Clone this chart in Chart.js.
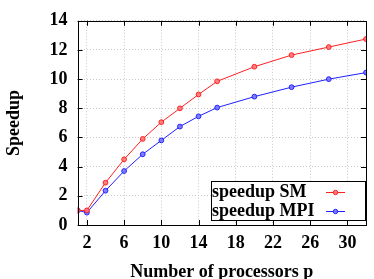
<!DOCTYPE html>
<html>
<head>
<meta charset="utf-8">
<script src="https://cdn.jsdelivr.net/npm/chart.js@4"></script>
<style>
  html, body { margin: 0; padding: 0; background: #fff; }
  #wrap { width: 374px; height: 279px; }
</style>
</head>
<body>
<div id="wrap"><canvas id="chart" width="374" height="279"></canvas></div>
<script>
const processors = [1, 2, 4, 6, 8, 10, 12, 14, 16, 20, 24, 28, 32];
const speedupSM = [1.0, 1.0, 2.9, 4.5, 5.9, 7.05, 8.0, 8.95, 9.85, 10.85, 11.65, 12.2, 12.75];
const speedupMPI = [1.0, 0.85, 2.35, 3.7, 4.85, 5.8, 6.75, 7.45, 8.05, 8.8, 9.45, 10.0, 10.45];
const xTicks = [2, 6, 10, 14, 18, 22, 26, 30];
const seriesNames = ['speedup SM', 'speedup MPI'];

const FONT = 'Liberation Serif';
const toPoints = (ys) => processors.map((x, i) => ({ x, y: ys[i] }));

// frame, inward tick marks and the boxed legend in the lower right
const frame = {
  id: 'frame',
  afterDraw(chart) {
    const { ctx, chartArea: a, scales } = chart;
    ctx.save();
    ctx.strokeStyle = '#000';
    ctx.lineWidth = 1;
    ctx.beginPath();
    for (const t of xTicks) {
      const px = Math.round(scales.x.getPixelForValue(t)) + 0.5;
      ctx.moveTo(px, a.bottom); ctx.lineTo(px, a.bottom - 5);
      ctx.moveTo(px, a.top); ctx.lineTo(px, a.top + 5);
    }
    for (let v = 0; v <= 14; v += 2) {
      const py = Math.round(scales.y.getPixelForValue(v)) + 0.5;
      ctx.moveTo(a.left, py); ctx.lineTo(a.left + 5, py);
      ctx.moveTo(a.right, py); ctx.lineTo(a.right - 5, py);
    }
    ctx.stroke();
    ctx.strokeRect(Math.round(a.left) + 0.5, Math.round(a.top) + 0.5,
      Math.round(a.right - a.left), Math.round(a.bottom - a.top));

    // legend
    const bw = 154, bh = 39;
    const bx = Math.round(a.right) - bw - 1, by = Math.round(a.bottom) - 44;
    ctx.fillStyle = '#fff';
    ctx.fillRect(bx, by, bw, bh);
    ctx.strokeRect(bx + 0.5, by + 0.5, bw, bh);
    ctx.font = `bold 18px "${FONT}"`;
    ctx.textBaseline = 'middle';
    chart.data.datasets.forEach((ds, i) => {
      const cy = by + 11 + i * 19;
      ctx.fillStyle = '#000';
      ctx.fillText(seriesNames[i], bx + 1, cy);
      ctx.strokeStyle = ds.borderColor;
      ctx.beginPath();
      ctx.moveTo(bx + 115, cy + 0.5); ctx.lineTo(bx + 134, cy + 0.5);
      ctx.stroke();
      ctx.fillStyle = ds.backgroundColor;
      ctx.beginPath();
      ctx.arc(bx + 124.5, cy + 0.5, 2.2, 0, Math.PI * 2);
      ctx.fill(); ctx.stroke();
    });
    ctx.restore();
  }
};

new Chart(document.getElementById('chart'), {
  type: 'scatter',
  data: {
    datasets: [
      { label: seriesNames[0], data: toPoints(speedupSM), showLine: true, borderColor: '#ff2020', backgroundColor: 'rgba(255,120,120,0.9)', borderWidth: 1, pointRadius: 2.4, pointBorderWidth: 1 },
      { label: seriesNames[1], data: toPoints(speedupMPI), showLine: true, borderColor: '#2020ff', backgroundColor: 'rgba(120,120,255,0.9)', borderWidth: 1, pointRadius: 2.4, pointBorderWidth: 1 }
    ]
  },
  options: {
    responsive: false,
    animation: false,
    layout: { padding: { left: 4, right: 8, top: 14, bottom: 0 } },
    plugins: { legend: { display: false }, tooltip: { enabled: false } },
    scales: {
      x: {
        type: 'linear', min: 1, max: 32,
        afterBuildTicks: (s) => { s.ticks = xTicks.map((v) => ({ value: v })); },
        grid: { color: '#c8c8c8', drawTicks: false },
        border: { display: false, dash: [1, 2] },
        ticks: { color: '#000', padding: 9, font: { family: FONT, size: 18, weight: 'bold', lineHeight: 1 }, maxRotation: 0 },
        title: { display: true, text: 'Number of processors p', color: '#000', padding: { top: 2, bottom: -2 }, font: { family: FONT, size: 18, weight: 'bold', lineHeight: 1 } }
      },
      y: {
        min: 0, max: 14,
        ticks: { stepSize: 2, color: '#000', padding: 10, font: { family: FONT, size: 18, weight: 'bold' } },
        grid: { color: '#c8c8c8', drawTicks: false },
        border: { display: false, dash: [1, 2] },
        title: { display: true, text: 'Speedup', color: '#000', padding: { top: 0, bottom: 14 }, font: { family: FONT, size: 18, weight: 'bold' } }
      }
    }
  },
  plugins: [frame]
});
</script>
</body>
</html>
